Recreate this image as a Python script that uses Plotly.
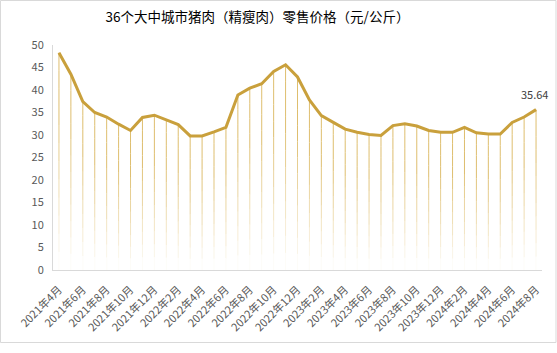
import plotly.graph_objects as go

months = [f"{y}年{m}月" for y, m in
          [(2021, m) for m in range(4, 13)] + [(2022, m) for m in range(1, 13)] +
          [(2023, m) for m in range(1, 13)] + [(2024, m) for m in range(1, 9)]]

prices = [48.3, 43.5, 37.4, 35.0, 34.0, 32.4, 31.0, 33.9, 34.4, 33.3, 32.3, 29.8,
          29.8, 30.7, 31.7, 38.9, 40.4, 41.4, 44.1, 45.6, 42.9, 37.8, 34.3, 32.8,
          31.3, 30.6, 30.1, 29.9, 32.1, 32.5, 32.0, 31.0, 30.6, 30.6, 31.7, 30.5,
          30.2, 30.2, 32.8, 34.0, 35.64]

title_text = "36个大中城市猪肉（精瘦肉）零售价格（元/公斤）"
yticks = list(range(0, 51, 5))

idx = list(range(len(months)))
tick_idx = idx[::2]
tick_text = [months[i] for i in tick_idx]

fig = go.Figure()

# drop lines with vertical fade (split into bands of decreasing opacity)
nb = 12
for b in range(nb):
    xs, ys = [], []
    for i, v in zip(idx, prices):
        xs += [i, i, None]
        ys += [v * b / nb, v * (b + 1) / nb, None]
    op = min(1.0, 0.05 + (b / (nb - 1)) * 1.3)
    fig.add_trace(go.Scatter(x=xs, y=ys, mode="lines",
                             line=dict(color=f"rgba(222,190,110,{op:.3f})", width=1),
                             hoverinfo="skip", showlegend=False))

fig.add_trace(go.Scatter(x=idx, y=prices, mode="lines",
                         line=dict(color="#C9A03C", width=3),
                         showlegend=False))

fig.add_annotation(x=idx[-1], y=prices[-1], text=f"{prices[-1]:.2f}",
                   showarrow=False, yshift=16, xshift=-2,
                   font=dict(size=11, color="#404040",
                             family="Microsoft YaHei, Noto Sans CJK SC, sans-serif"))

fig.add_shape(type="rect", xref="paper", yref="paper",
              x0=-52.5 / 489, x1=(556.0 - 53) / 489,
              y0=(270 - 342.5) / 225, y1=(270 - 0.5) / 225,
              line=dict(color="#D9D9D9", width=1), layer="below")

fig.update_layout(
    width=557, height=353,
    margin=dict(l=53, r=15, t=45, b=83),
    paper_bgcolor="white", plot_bgcolor="white",
    title=dict(text=title_text, x=257.5 / 557, xref="container", xanchor="center",
               y=1 - 17 / 353, yanchor="middle",
               font=dict(size=13.5, color="#000000",
                         family="Noto Sans CJK SC, sans-serif")),
    xaxis=dict(range=[-0.5, len(months) - 0.5], tickvals=tick_idx, ticktext=tick_text,
               tickangle=-45, showgrid=False, zeroline=False,
               showline=True, linecolor="#D9D9D9", linewidth=1, ticks="",
               ticklabelstandoff=8,
               tickfont=dict(size=11, color="#595959",
                             family="Noto Sans CJK SC, sans-serif")),
    yaxis=dict(range=[0, 50], tickvals=yticks, showgrid=False, zeroline=False,
               showline=True, linecolor="#D9D9D9", linewidth=1, ticks="",
               ticklabelstandoff=6,
               tickfont=dict(size=11, color="#595959",
                             family="Noto Sans CJK SC, sans-serif")),
)

fig.write_html("out.html")
